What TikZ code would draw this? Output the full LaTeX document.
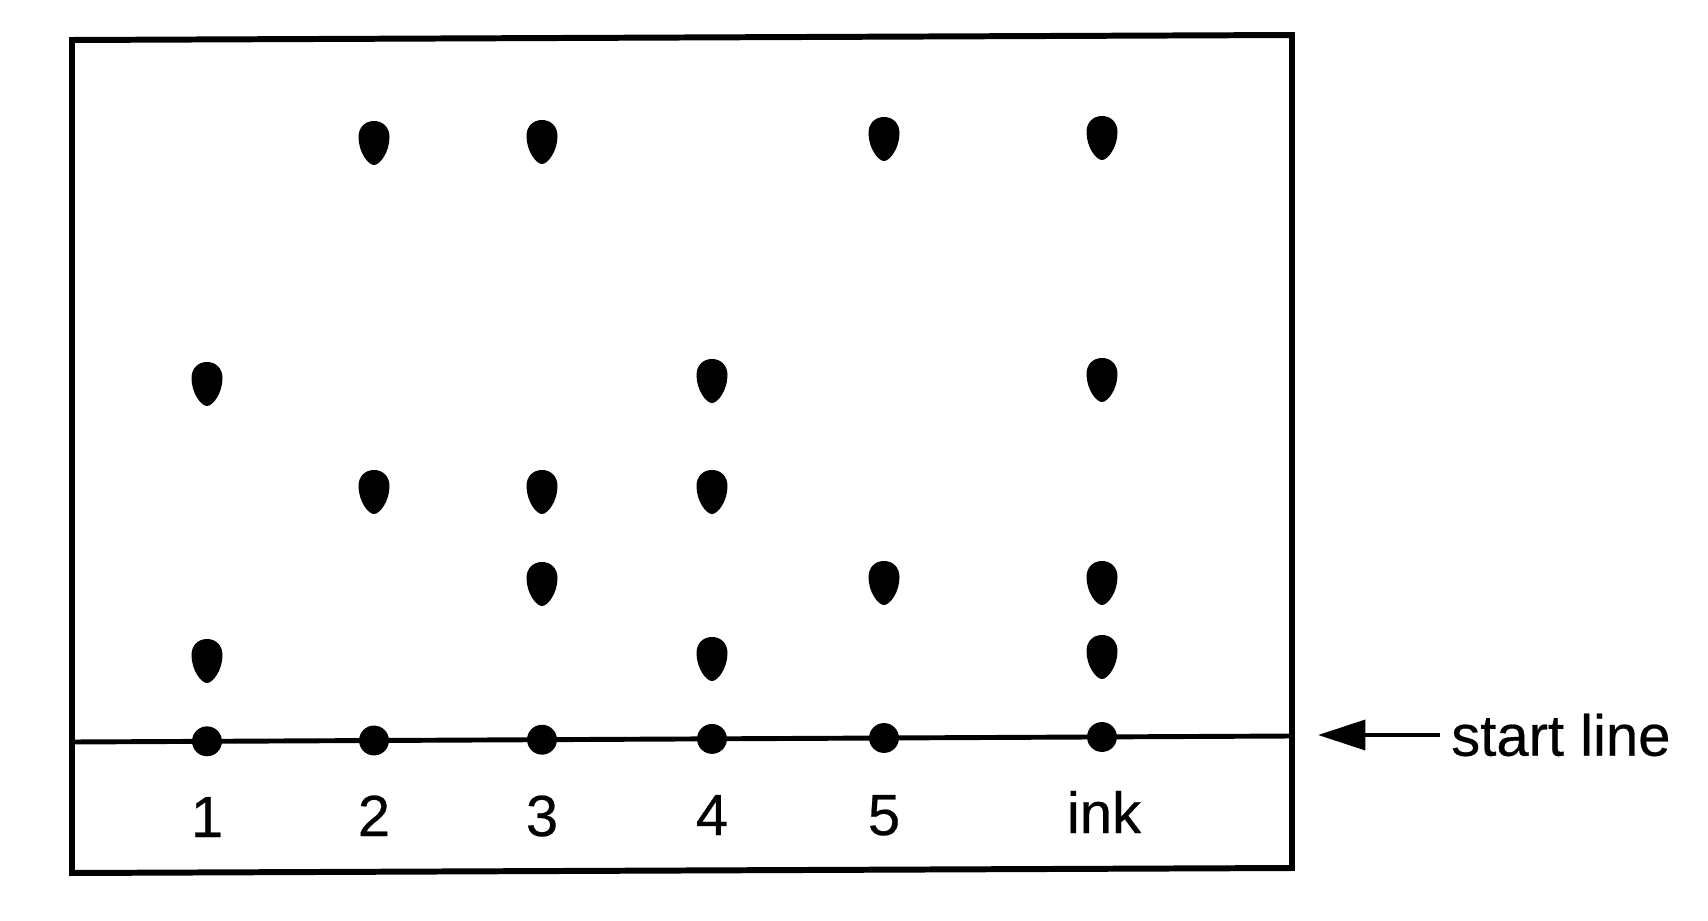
\documentclass[tikz,border=0pt]{standalone}
\usepackage{fontspec}
\setmainfont{Liberation Sans}[FakeBold=0.4]
\usetikzlibrary{positioning}
\usetikzlibrary{arrows.meta}
\tikzset{dot/.style={inner sep=0pt, minimum size=8.5pt, fill=black!100, circle}}
\tikzset{lane/.style={font=\fontsize{16.5}{20}\selectfont, anchor=base, inner sep=0pt}}
\tikzset{plate/.style={draw=black, line width=1.7pt, line join=miter}}
\tikzset{spot/.pic={\fill[black] (0,22) .. controls (-6,22) and (-15.5,9) .. (-15.5,-6) .. controls (-15.5,-16) and (-8.5,-22) .. (0,-22) .. controls (8.5,-22) and (15.5,-16) .. (15.5,-6) .. controls (15.5,9) and (6,22) .. (0,22) -- cycle;}}

\begin{document}
\begin{tikzpicture}[x=0.01cm, y=-0.01cm]
        \useasboundingbox (0,0) rectangle (1708,921);
        \draw [plate] (72,40) -- (1292,35) -- (1292,868) -- (72,873) -- cycle;

        \coordinate (lineL) at (72,742);
        \coordinate (lineR) at (1292,736);
        \draw [line width=1.4pt] (lineL) -- (lineR);

        \node [dot](s1) at (207,741.3){};
        \node [dot](s2) at (374,740.5){};
        \node [dot](s3) at (542,739.7){};
        \node [dot](s4) at (712,738.9){};
        \node [dot](s5) at (884,738){};
        \node [dot](s6) at (1102,737){};

        \node [lane](l1) at (207,837) {1};
        \node [lane](l2) at (374,836) {2};
        \node [lane](l3) at (542,836) {3};
        \node [lane](l4) at (712,835) {4};
        \node [lane](l5) at (884,835) {5};
        \node [lane](l6) at (1104,833) {ink};

        \pic (c1a) at (207,384) {spot};
        \pic (c1b) at (207,661) {spot};
        \pic (c2a) at (374,143) {spot};
        \pic (c2b) at (374,492) {spot};
        \pic (c3a) at (542,142) {spot};
        \pic (c3b) at (542,492) {spot};
        \pic (c3c) at (542,584) {spot};
        \pic (c4a) at (712,381) {spot};
        \pic (c4b) at (712,492) {spot};
        \pic (c4c) at (712,659) {spot};
        \pic (c5a) at (884,139) {spot};
        \pic (c5b) at (884,583) {spot};
        \pic (c6a) at (1102,138) {spot};
        \pic (c6b) at (1102,380) {spot};
        \pic (c6c) at (1102,583) {spot};
        \pic (c6d) at (1102,657) {spot};

        \coordinate (arrowtip) at (1318,735);
        \node [lane, anchor=west, inner sep=3pt](startlabel) at (1440,735) {start line};
        \draw [line width=1.2pt, -{Triangle[length=13.5pt,width=8.5pt]}] (startlabel.west) -- (arrowtip);
\end{tikzpicture}
\end{document}
